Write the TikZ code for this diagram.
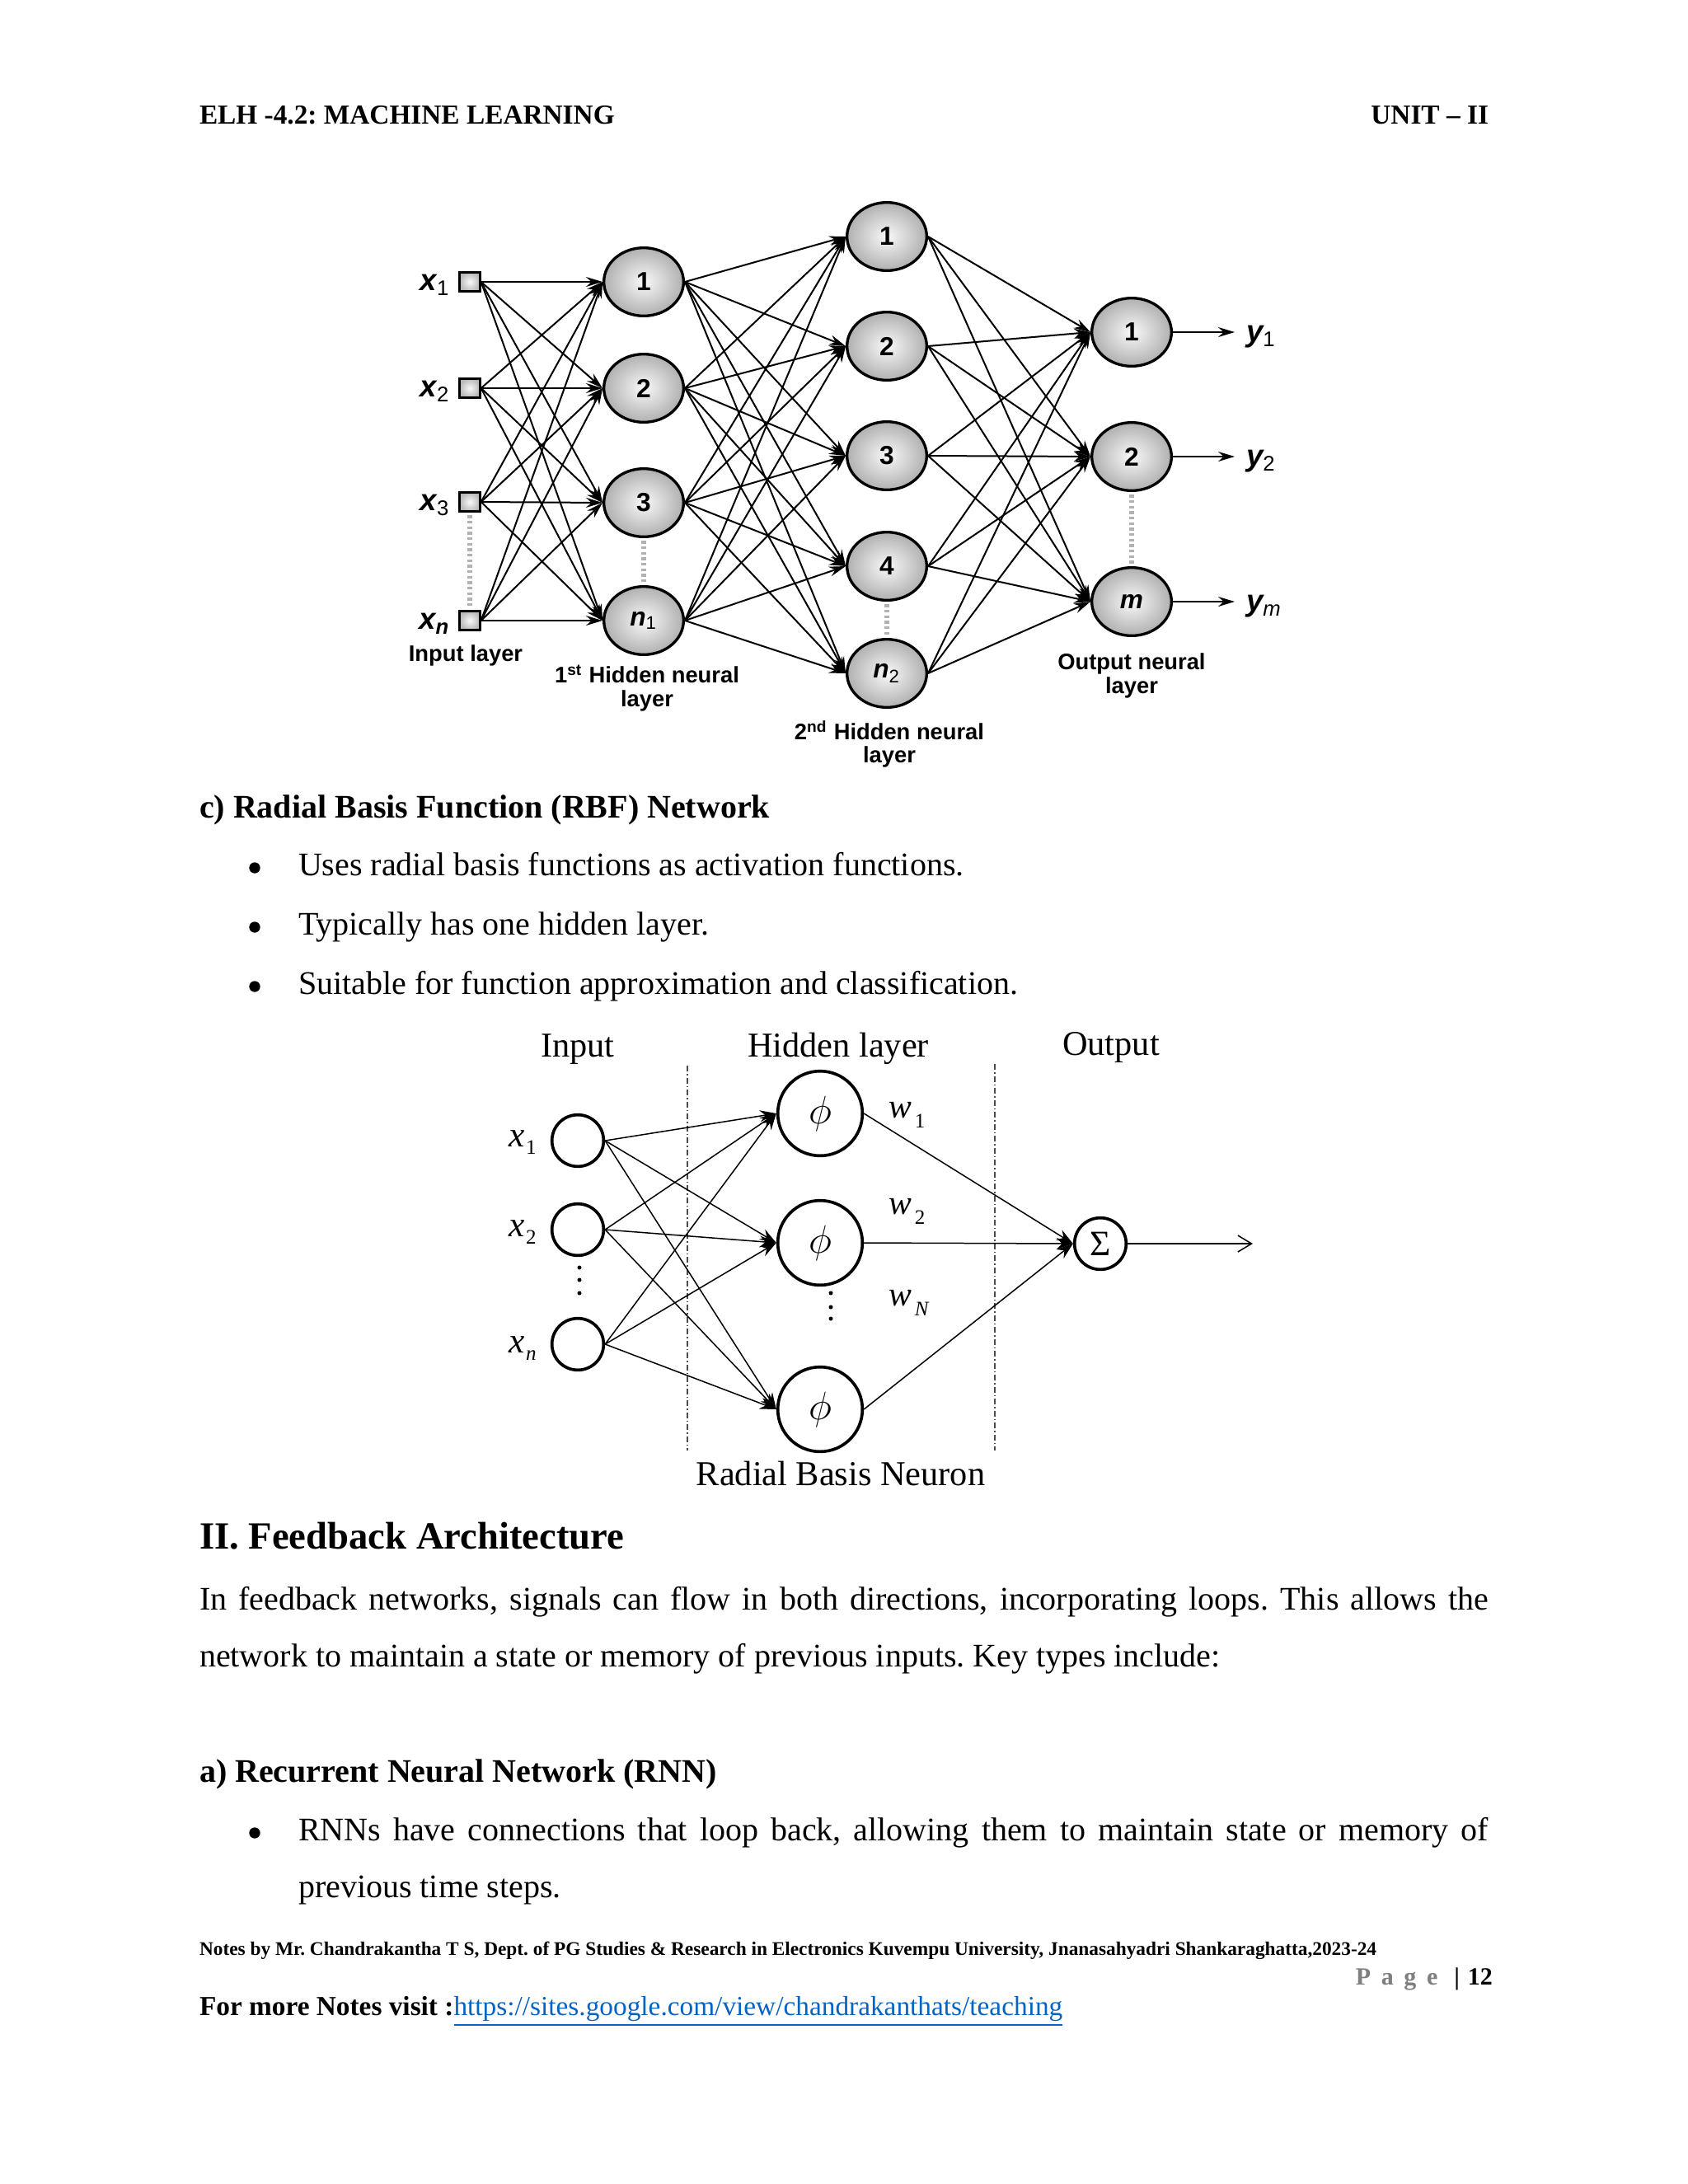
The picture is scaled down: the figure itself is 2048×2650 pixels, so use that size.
\documentclass[tikz,border=0pt]{standalone}
\usepackage{fontspec}
\setmainfont{Liberation Serif}
\setsansfont{Liberation Sans}
\usetikzlibrary{shapes.geometric,arrows.meta}
\definecolor{linkblue}{RGB}{5,99,193}
\definecolor{pagegray}{RGB}{127,127,127}
\newcommand{\fsz}[1]{\fontsize{#1}{#1}\selectfont}
\newcommand{\lowsub}[2]{\raisebox{-#1}{\fsz{7.5}#2}}
\frenchspacing
\tikzset{
  txt/.style={inner sep=0pt, outer sep=0pt},
  bodytxt/.style={txt, anchor=base west, font=\fsz{12}},
  bulletdot/.style={circle, fill=black, inner sep=0pt, minimum size=4pt},
  neuron/.style={ellipse, draw=black, line width=1pt, minimum width=29pt, minimum height=24.8pt,
    inner sep=0pt, shade, inner color=gray!5, outer color=gray!62,
    font=\sffamily\bfseries\fsz{9.5}},
  insq/.style={rectangle, draw=black, line width=0.8pt, minimum width=7.4pt, minimum height=7pt,
    inner sep=0pt, shade, inner color=gray!5, outer color=gray!55},
  nnarr/.style={-{Stealth[length=6pt,width=3.6pt,inset=2pt]}, line width=0.6pt},
  nndots/.style={gray!60, line width=1.6pt, dash pattern=on 1pt off 1pt, shorten >=1pt, shorten <=1pt},
  nnlab/.style={txt, font=\sffamily\bfseries\fsz{8.2}, align=center},
  nnvar/.style={txt, font=\sffamily\bfseries\itshape\fsz{11}},
  rbfc/.style={circle, draw=black, line width=1.1pt, inner sep=0pt},
  rbfarr/.style={-{Stealth[length=6pt,width=4.2pt,inset=2pt]}, line width=0.45pt},
  dashdot/.style={line width=0.5pt, gray!60!black, dash pattern=on 2.1pt off 0.9pt on 0.45pt off 0.9pt},
  rbftxt/.style={txt, anchor=base, font=\fsz{12.7}},
}
\begin{document}
\begin{tikzpicture}[x=0.3pt,y=-0.3pt]
\fill[white] (0,0) rectangle (2048,2650);
\useasboundingbox (0,0) rectangle (2048,2650);

% ---------- header ----------
\node[txt, anchor=base west, font=\bfseries\fsz{10}] (hdrL) at (242,150) {ELH -4.2: MACHINE LEARNING};
\node[txt, anchor=base east, font=\bfseries\fsz{10}] (hdrR) at (1806,150) {UNIT – II};

% ---------- feed-forward network ----------
\foreach \i/\y in {1/342,2/471,3/609,4/753} \node[insq] (in\i) at (570,\y) {};
\node[nnvar, anchor=east] (lx1) at (546,346) {x\textsubscript{\mdseries\upshape 1}};
\node[nnvar, anchor=east] (lx2) at (546,475) {x\textsubscript{\mdseries\upshape 2}};
\node[nnvar, anchor=east] (lx3) at (546,613) {x\textsubscript{\mdseries\upshape 3}};
\node[nnvar, anchor=east] (lx4) at (546,757) {x\textsubscript{n}};

\node[neuron] (ha1) at (781,342) {1};
\node[neuron] (ha2) at (781,471) {2};
\node[neuron] (ha3) at (781,610) {3};
\node[neuron] (ha4) at (781,753) {\itshape n\textsubscript{\mdseries\upshape 1}};

\node[neuron] (hb1) at (1076,287) {1};
\node[neuron] (hb2) at (1076,420) {2};
\node[neuron] (hb3) at (1076,553) {3};
\node[neuron] (hb4) at (1076,687) {4};
\node[neuron] (hb5) at (1076,817) {\itshape n\textsubscript{\mdseries\upshape 2}};

\node[neuron] (o1) at (1373,403) {1};
\node[neuron] (o2) at (1373,554) {2};
\node[neuron] (o3) at (1373,730) {\itshape m};

\foreach \i in {1,...,4} \foreach \j in {1,...,4} \draw[nnarr] (in\i.east) -- (ha\j.west);
\foreach \i in {1,...,4} \foreach \j in {1,...,5} \draw[nnarr] (ha\i.east) -- (hb\j.west);
\foreach \i in {1,...,5} \foreach \j in {1,...,3} \draw[nnarr] (hb\i.east) -- (o\j.west);

\coordinate (oe1) at (1498,403);
\coordinate (oe2) at (1498,554);
\coordinate (oe3) at (1498,730);
\foreach \j in {1,2,3} \draw[nnarr] (o\j.east) -- (oe\j);
\node[nnvar, anchor=west] (ly1) at (1512,409) {y\textsubscript{\mdseries\upshape 1}};
\node[nnvar, anchor=west] (ly2) at (1512,560) {y\textsubscript{\mdseries\upshape 2}};
\node[nnvar, anchor=west] (ly3) at (1512,736) {y\textsubscript{\mdseries m}};

\draw[nndots] (in3.south) -- (in4.north);
\draw[nndots] (ha3.south) -- (ha4.north);
\draw[nndots] (hb4.south) -- (hb5.north);
\draw[nndots] (o2.south) -- (o3.north);

\node[nnlab] (lin) at (565,795) {Input layer};
\node[nnlab] (lh1) at (785,835) {1\textsuperscript{st} Hidden neural\\[0.3pt]layer};
\node[nnlab] (lh2) at (1079,903) {2\textsuperscript{nd} Hidden neural\\[0.3pt]layer};
\node[nnlab] (lout) at (1373,820) {Output neural\\[0.3pt]layer};

% ---------- RBF section ----------
\node[txt, anchor=base west, font=\bfseries\fsz{12}] (hc) at (242,992) {c) Radial Basis Function (RBF) Network};
\node[bulletdot] (bu1) at (309,1053) {};
\node[bodytxt] (bt1) at (362,1062) {Uses radial basis functions as activation functions.};
\node[bulletdot] (bu2) at (309,1125) {};
\node[bodytxt] (bt2) at (362,1134) {Typically has one hidden layer.};
\node[bulletdot] (bu3) at (309,1197) {};
\node[bodytxt] (bt3) at (362,1206) {Suitable for function approximation and classification.};

% RBF diagram
\node[rbftxt] (tIn) at (701,1282) {Input};
\node[rbftxt] (tHid) at (1017,1282) {Hidden layer};
\node[rbftxt] (tOut) at (1348,1280) {Output};
\node[rbftxt] (tRBN) at (1020,1802) {Radial Basis Neuron};

\draw[dashdot] (834,1293) -- (834,1760);
\draw[dashdot] (1207,1291) -- (1207,1760);

\node[rbfc, minimum size=18.8pt] (r1) at (701,1384) {};
\node[rbfc, minimum size=18.8pt] (r2) at (701,1492) {};
\node[rbfc, minimum size=18.8pt] (r3) at (701,1631) {};
\node[rbfc, minimum size=30.8pt, font=\fsz{15}] (p1) at (995,1351) {$\phi$};
\node[rbfc, minimum size=30.8pt, font=\fsz{15}] (p2) at (995,1508) {$\phi$};
\node[rbfc, minimum size=30.8pt, font=\fsz{15}] (p3) at (995,1710) {$\phi$};
\node[rbfc, minimum size=18.8pt, font=\fsz{13}] (sg) at (1335,1509) {Σ};
\coordinate (rout) at (1520,1509);

\foreach \i in {1,2,3} \foreach \j in {1,2,3} \draw[rbfarr] (r\i.east) -- (p\j.west);
\foreach \j in {1,2,3} \draw[rbfarr] (p\j.east) -- (sg.west);
\draw[line width=0.45pt, -{Straight Barb[length=5pt,width=6pt]}] (sg.east) -- (rout);

\foreach \yy in {1538,1553,1569} \fill (703,\yy) circle (0.75pt);
\foreach \yy in {1569,1586,1600} \fill (1008,\yy) circle (0.75pt);

\node[txt, anchor=base west, font=\fsz{13}] (rx1) at (617,1391) {\itshape x\hspace{0.6pt}\lowsub{2.9pt}{\upshape 1}};
\node[txt, anchor=base west, font=\fsz{13}] (rx2) at (617,1500) {\itshape x\hspace{0.6pt}\lowsub{2.9pt}{\upshape 2}};
\node[txt, anchor=base west, font=\fsz{13}] (rx3) at (617,1641) {\itshape x\hspace{0.6pt}\lowsub{2.9pt}{\itshape n}};
\node[txt, anchor=base west, font=\fsz{12.5}] (w1) at (1078,1356) {\itshape w\hspace{1.2pt}\lowsub{3.7pt}{\upshape 1}};
\node[txt, anchor=base west, font=\fsz{12.5}] (w2) at (1078,1473) {\itshape w\hspace{1.2pt}\lowsub{3.7pt}{\upshape 2}};
\node[txt, anchor=base west, font=\fsz{12.5}] (w3) at (1078,1584) {\itshape w\hspace{1.2pt}\lowsub{3.7pt}{\itshape N}};

% ---------- feedback section ----------
\node[txt, anchor=base west, font=\bfseries\fsz{14}] (h2) at (242,1879) {II. Feedback Architecture};
\node[bodytxt] (p1a) at (242,1953) {\makebox[469.2pt][s]{In feedback networks, signals can flow in both directions, incorporating loops. This allows the}};
\node[bodytxt] (p1b) at (242,2022) {network to maintain a state or memory of previous inputs. Key types include:};
\node[txt, anchor=base west, font=\bfseries\fsz{12}] (ha) at (242,2162) {a) Recurrent Neural Network (RNN)};
\node[bulletdot] (bu4) at (309,2224) {};
\node[bodytxt] (bt4) at (362,2233) {\makebox[433.2pt][s]{RNNs have connections that loop back, allowing them to maintain state or memory of}};
\node[bodytxt] (bt4b) at (362,2302) {previous time steps.};

% ---------- footer ----------
\node[txt, anchor=base west, font=\bfseries\fsz{7}] (ft1) at (242,2372) {Notes by Mr. Chandrakantha T S, Dept. of PG Studies \& Research in Electronics Kuvempu University, Jnanasahyadri Shankaraghatta,2023-24};
\node[txt, anchor=base east, font=\bfseries\fsz{9}] (pg) at (1811,2408) {\textcolor{pagegray}{P\hspace{3.8pt}a\hspace{3.8pt}g\hspace{3.8pt}e}\hspace{6pt}|\hspace{3pt}12};
\node[txt, anchor=base west, font=\fsz{10}] (ft2) at (242,2445) {\textbf{For more Notes visit :}\textcolor{linkblue}{\underline{https://sites.google.com/view/chandrakanthats/teaching}}};
\end{tikzpicture}
\end{document}
